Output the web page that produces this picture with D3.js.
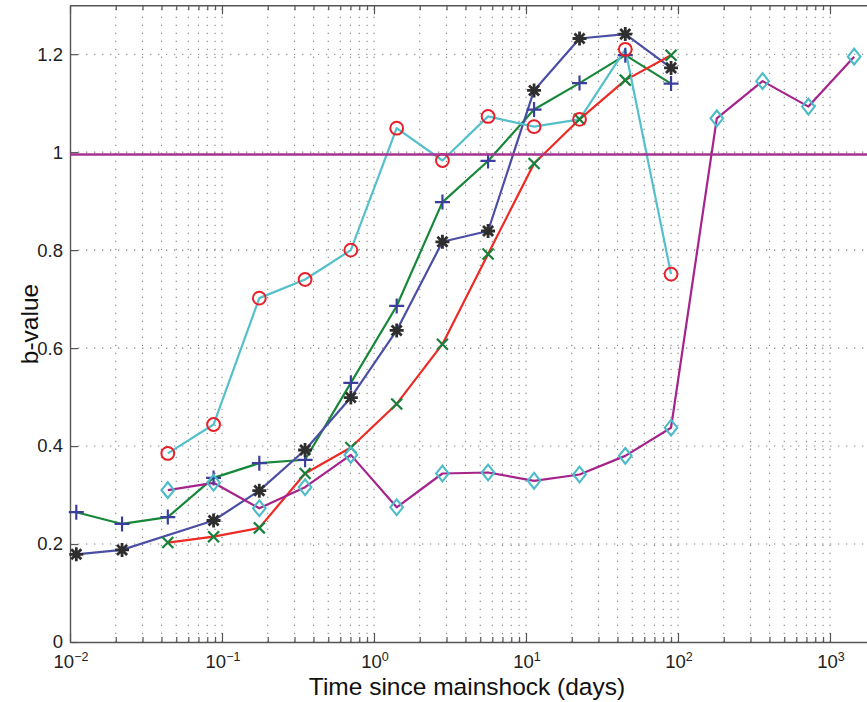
<!DOCTYPE html>
<html><head><meta charset="utf-8">
<script src="https://cdn.jsdelivr.net/npm/d3@7"></script>
<style>body{margin:0;background:#fff} svg{display:block}</style>
</head><body>
<svg id="chart" width="867" height="702"></svg>
<script>
// Time windows after the mainshock (days) and the b-value estimated in each
const days = [0.011, 0.022, 0.044, 0.088, 0.176, 0.352, 0.704, 1.41, 2.82, 5.63, 11.3, 22.5, 45, 90, 180, 360, 721, 1442];
const seriesPlus    = [0.265, 0.241, 0.255, 0.335, 0.365, 0.372, 0.529, 0.686, 0.898, 0.982, 1.087, 1.141, 1.198, 1.140];
const seriesStar    = [0.179, 0.188, null, 0.248, 0.309, 0.392, 0.499, 0.636, 0.817, 0.839, 1.126, 1.232, 1.241, 1.172];
const seriesCross   = [null, null, 0.203, 0.215, 0.233, 0.344, 0.397, 0.486, 0.608, 0.792, 0.977, 1.067, 1.147, 1.198];
const seriesCircle  = [null, null, 0.385, 0.444, 0.702, 0.740, 0.800, 1.049, 0.983, 1.073, 1.052, 1.067, 1.210, 0.751];
const seriesDiamond = [null, null, 0.310, 0.325, 0.273, 0.316, 0.382, 0.275, 0.344, 0.346, 0.329, 0.342, 0.380, 0.4375, 1.069, 1.145, 1.093, 1.195];
const referenceB = 0.995;
const yTicks = [0, 0.2, 0.4, 0.6, 0.8, 1, 1.2];
const yTickLabels = ["0", "0.2", "0.4", "0.6", "0.8", "1", "1.2"];
const xDecades = [-2, -1, 0, 1, 2, 3];
const xLabel = "Time since mainshock (days)";
const yLabel = "b-value";

const FONT = "'Liberation Sans', Arial, Helvetica, sans-serif";
const svg = d3.select("#chart");
const plotLeft = 70, plotBottom = 642, plotTop = 5.2;

const x = d3.scaleLog().domain([0.01, 10000]).range([plotLeft, plotLeft + 152 * 6]);
const y = d3.scaleLinear().domain([0, 1.3]).range([plotBottom, plotTop]);
const plotRight = x.range()[1];

// every 1..9 multiple of each decade for the log ticks and grid
const xTicks = [];
for (let d = -2; d <= 3; d++) for (let m = 1; m <= 9; m++) xTicks.push(m * Math.pow(10, d));
xTicks.push(10000);
const isMajor = v => Math.abs(Math.log10(v) - Math.round(Math.log10(v))) < 1e-9;

// dotted grid
const grid = svg.append("g").attr("stroke", "#808080").attr("stroke-width", 1.1)
  .attr("stroke-dasharray", "1.3,6.7").attr("fill", "none");
grid.selectAll("line.v").data(xTicks.filter(v => v > 0.01 && v < 10000)).join("line")
  .attr("x1", d => x(d)).attr("x2", d => x(d)).attr("y1", plotBottom).attr("y2", plotTop);
grid.selectAll("line.h").data(yTicks.filter(v => v > 0)).join("line")
  .attr("x1", plotLeft).attr("x2", plotRight).attr("y1", d => y(d)).attr("y2", d => y(d));

// axes
const axisColor = "#555";
function styleAxis(g) {
  g.select(".domain").attr("stroke", axisColor).attr("stroke-width", 1.4);
  g.selectAll(".tick line").attr("stroke", axisColor).attr("stroke-width", 1.2);
}
const gx = svg.append("g").attr("transform", `translate(0,${plotBottom})`)
  .call(d3.axisBottom(x).tickValues(xTicks).tickSize(-5).tickSizeOuter(0).tickFormat(""));
gx.selectAll(".tick line").filter(d => isMajor(d)).attr("y2", -9);
styleAxis(gx);
const gxt = svg.append("g").attr("transform", `translate(0,${plotTop})`)
  .call(d3.axisTop(x).tickValues(xTicks).tickSize(-5).tickSizeOuter(0).tickFormat(""));
gxt.selectAll(".tick line").filter(d => isMajor(d)).attr("y2", 9);
styleAxis(gxt);
const gy = svg.append("g").attr("transform", `translate(${plotLeft},0)`)
  .call(d3.axisLeft(y).tickValues(yTicks).tickSize(-8).tickSizeOuter(0).tickPadding(7)
    .tickFormat((d, i) => yTickLabels[i]));
styleAxis(gy);
gy.selectAll(".tick text").attr("font-family", FONT).attr("font-size", 18.5).attr("fill", "#222");

// decade labels with superscript exponents
const xl = svg.append("g").attr("font-family", FONT).attr("fill", "#222");
xDecades.forEach(e => {
  const t = xl.append("text").attr("x", x(Math.pow(10, e)) + 1).attr("y", 668)
    .attr("text-anchor", "middle").attr("font-size", 18.5);
  t.append("tspan").text("10");
  t.append("tspan").attr("dy", -7.5).attr("font-size", 12.5).text(e < 0 ? "\u2212" + (-e) : String(e));
});

svg.append("text").attr("x", 467).attr("y", 695).attr("text-anchor", "middle")
  .attr("font-family", FONT).attr("font-size", 24.5).attr("fill", "#111").text(xLabel);
svg.append("text").attr("transform", "translate(38,324) rotate(-90)").attr("text-anchor", "middle")
  .attr("font-family", FONT).attr("font-size", 24.5).attr("fill", "#111").text(yLabel);

// marker shapes
const mk = {
  plus: s => `M${-s},0H${s}M0,${-s}V${s}`,
  cross: s => `M${-s},${-s}L${s},${s}M${-s},${s}L${s},${-s}`,
  star: s => { const k = s * 0.72; return `M${-s},0H${s}M0,${-s}V${s}M${-k},${-k}L${k},${k}M${-k},${k}L${k},${-k}`; },
  diamond: s => `M0,${-s * 1.25}L${s},0L0,${s * 1.25}L${-s},0Z`
};

const line = d3.line().x(d => x(d[0])).y(d => y(d[1]));
const pts = vals => vals.map((v, i) => [days[i], v]).filter(d => d[1] != null);

const series = [
  { vals: seriesPlus,    line: "#17873a", mark: "#3b3e9c", shape: "plus",    size: 7.5, sw: 2.2 },
  { vals: seriesStar,    line: "#4b4fa3", mark: "#2e2e2e", shape: "star",    size: 7,   sw: 2.8 },
  { vals: seriesCross,   line: "#ee2a24", mark: "#17803a", shape: "cross",   size: 5.5, sw: 2.2 },
  { vals: seriesCircle,  line: "#55c0cc", mark: "#e8202a", shape: "circle",  size: 6.4, sw: 2 },
  { vals: seriesDiamond, line: "#a5238c", mark: "#4cbcc8", shape: "diamond", size: 6.3, sw: 2.1 }
];

const plot = svg.append("g");
series.forEach(s => {
  plot.append("path").datum(pts(s.vals)).attr("d", line)
    .attr("fill", "none").attr("stroke", s.line).attr("stroke-width", 2.2).attr("stroke-linejoin", "round");
});
series.forEach(s => {
  const g = plot.append("g").attr("fill", "none").attr("stroke", s.mark).attr("stroke-width", s.sw);
  pts(s.vals).forEach(p => {
    if (s.shape === "circle") {
      g.append("circle").attr("cx", x(p[0])).attr("cy", y(p[1])).attr("r", s.size);
    } else {
      g.append("path").attr("transform", `translate(${x(p[0])},${y(p[1])})`).attr("d", mk[s.shape](s.size));
    }
  });
});

// reference b-value level
svg.append("line").attr("x1", plotLeft).attr("x2", plotRight).attr("y1", y(referenceB)).attr("y2", y(referenceB))
  .attr("stroke", "#a5338f").attr("stroke-width", 2.5);
</script>
</body></html>
